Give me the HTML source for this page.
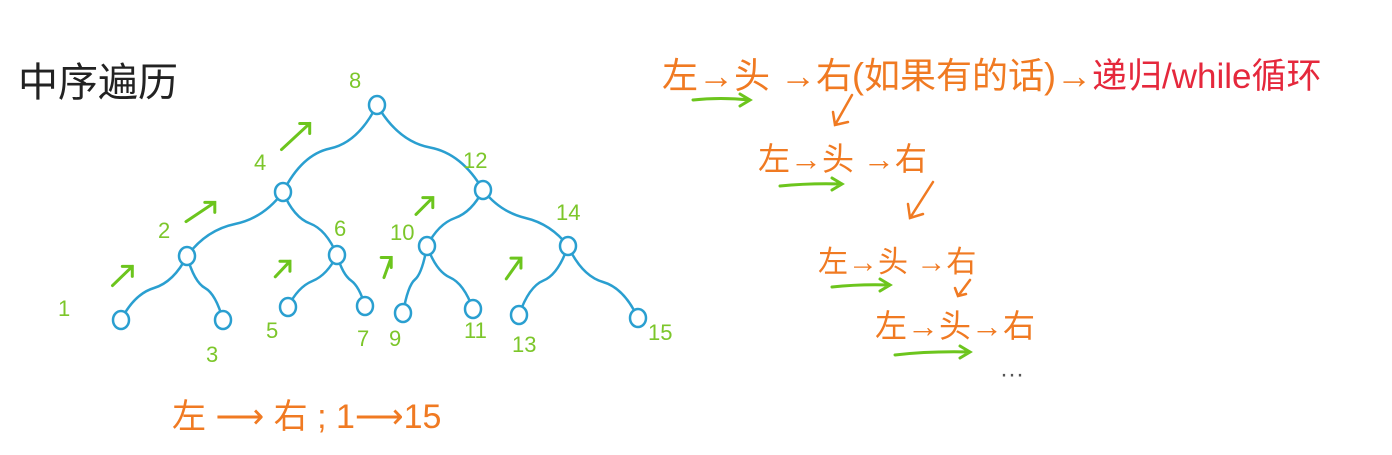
<!DOCTYPE html>
<html><head><meta charset="utf-8">
<style>
html,body{margin:0;padding:0;background:#fff;}
svg{display:block;}
.t{font-family:"Liberation Sans","WenQuanYi Zen Hei","Noto Sans CJK SC",sans-serif;}
</style></head>
<body>
<svg id="s" width="1392" height="455" viewBox="0 0 1392 455">
  <text x="18" y="96" class="t" font-size="40" fill="#222">中序遍历</text>
  <g id="edges"></g>
  <g id="nodes"></g>
  <g id="labels"></g>
  <g id="arrows"></g>
  <text x="172" y="428" class="t" font-size="34" fill="#f07a22">左 ⟶ 右 ; 1⟶15</text>
  <text x="662" y="88" class="t" font-size="36" fill="#f07a22">左→头 →右(如果有的话)→<tspan fill="#e5283c" font-size="35">递归/while循环</tspan></text>
  <text x="758" y="170" class="t" font-size="32" fill="#f07a22">左→头 →右</text>
  <text x="818" y="272" class="t" font-size="30" fill="#f07a22">左→头 →右</text>
  <text x="875" y="337" class="t" font-size="32" fill="#f07a22">左→头→右</text>
  <text x="1000" y="382" class="t" font-size="24" fill="#555">···</text>
  <g stroke="#f07a22" stroke-width="2.5" fill="none" stroke-linecap="round">
    <path d="M852 95 L835 125 M833 112 L835 125 L848 122"/>
    <path d="M933 182 L910 218 M908 204 L910 218 L923 214"/>
    <path d="M970 280 L958 296 M955 288 L958 296 L966 294"/>
  </g>
  <g stroke="#6cc51d" stroke-width="3" fill="none" stroke-linecap="round">
    <path d="M693 100 Q720 97 750 100 M740 94 L750 100 L740 106"/>
    <path d="M780 186 Q810 183 842 184 M832 178 L842 184 L832 190"/>
    <path d="M832 287 Q860 284 890 285 M880 279 L890 285 L880 291"/>
    <path d="M895 355 Q930 351 970 352 M960 346 L970 352 L960 358"/>
  </g>
</svg>
<script>
const nodeValues=[8,4,12,2,6,10,14,1,3,5,7,9,11,13,15];
const nodeParents=[-1,0,0,1,1,2,2,3,3,4,4,5,5,6,6];
const pos=[[377,105],[283,192],[483,190],[187,256],[337,255],[427,246],[568,246],[121,320],[223,320],[288,307],[365,306],[403,313],[473,309],[519,315],[638,318]];
const lab=[[349,88],[254,170],[463,168],[158,238],[334,236],[390,240],[556,220],[58,316],[206,362],[266,338],[357,346],[389,346],[464,338],[512,352],[648,340]];
const NS="http://www.w3.org/2000/svg";
const E=document.getElementById('edges'),N=document.getElementById('nodes'),L=document.getElementById('labels'),A=document.getElementById('arrows');
nodeValues.forEach((v,i)=>{
  const p=nodeParents[i];
  if(p>=0){
    const [x1,y1]=pos[p],[x2,y2]=pos[i];
    const mx=(x1+x2)/2,my=(y1+y2)/2;
    const e=document.createElementNS(NS,'path');
    e.setAttribute('d',`M${x1} ${y1} Q${x1+(x2-x1)*0.2} ${my-6} ${mx} ${my} T${x2} ${y2}`);
    e.setAttribute('stroke','#2a9fd0');e.setAttribute('stroke-width','2.5');e.setAttribute('fill','none');
    
    
    E.appendChild(e);
    if(x2<x1){
      const a=document.createElementNS(NS,'path');
      const ox=x2+(x1-x2)*0.25-25,oy=y2-(y2-y1)*0.35-12;
      const dx=(x1-x2)*0.3,dy=(y1-y2)*0.3;
      const ex=ox+dx,ey=oy+dy;
      a.setAttribute('d',`M${ox} ${oy} L${ex} ${ey} M${ex-10} ${ey} L${ex} ${ey} L${ex} ${ey+10}`);
      a.setAttribute('stroke','#6cc51d');a.setAttribute('stroke-width','3');a.setAttribute('fill','none');a.setAttribute('stroke-linecap','round');
      
      
      A.appendChild(a);
    }
  }
});
nodeValues.forEach((v,i)=>{
  const c=document.createElementNS(NS,'ellipse');
  c.setAttribute('cx',pos[i][0]);c.setAttribute('cy',pos[i][1]);
  c.setAttribute('rx',8);c.setAttribute('ry',9);
  c.setAttribute('fill','#fff');c.setAttribute('stroke','#2a9fd0');c.setAttribute('stroke-width','2.5');
  
  
  N.appendChild(c);
  const t=document.createElementNS(NS,'text');
  t.setAttribute('x',lab[i][0]);t.setAttribute('y',lab[i][1]);
  t.setAttribute('fill','#7cc62a');t.setAttribute('font-size','22');t.setAttribute('class','t');
  t.textContent=v;
  
  
  L.appendChild(t);
});
</script>
</body></html>
